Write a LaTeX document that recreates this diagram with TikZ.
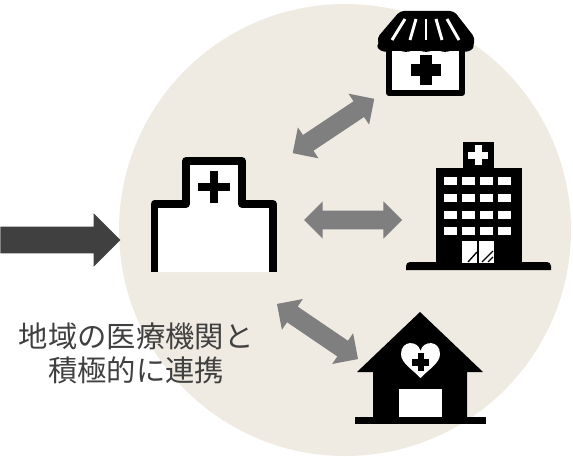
\documentclass[tikz,border=0pt]{standalone}
\usepackage{xcolor}
\usepackage{fontspec}
\usetikzlibrary{shapes.arrows, positioning}
\newfontfamily\cjk{Noto Sans CJK JP}
\definecolor{bgbeige}{HTML}{EFEBE2}
\definecolor{arrgray}{HTML}{7F7F7F}
\definecolor{arrdark}{HTML}{404040}
\tikzset{
  %block arrows
  linkarrow/.style={
    double arrow
    , fill=arrgray
    , inner xsep=0pt
    , inner ysep=6.9pt
    , minimum height=73.5pt
    , minimum width=27.5pt
    , double arrow head extend=6.85pt
    , anchor=center
  },
  inarrow/.style={
    single arrow
    , fill=arrdark
    , inner xsep=0pt
    , inner ysep=9.75pt
    , minimum height=90pt
    , minimum width=39.75pt
    , single arrow head extend=10.1pt
    , anchor=tail
  },
  %icon parts
  ink/.style={fill=black, draw=none},
  paper/.style={fill=white, draw=none},
  caption/.style={
    align=center
    , text=arrdark
    , font=\cjk\fontsize{22}{25}\selectfont
  },
}
\begin{document}
\begin{tikzpicture}[x=0.75pt, y=-0.75pt]
  \useasboundingbox (0,0) rectangle (573,456);
  \fill [bgbeige] (345,230) circle [radius=169.5pt];

  %arrows
  \node [inarrow] (in-arrow) at (0,240) {};
  \node [linkarrow, rotate=33.7] (to-store) at (333.5,126) {};
  \node [linkarrow] (to-tower) at (353,220) {};
  \node [linkarrow, rotate=-34.2] (to-home) at (317.5,331.5) {};

  %clinic
  \filldraw [fill=white, line width=5.6pt, line join=round]
    (154.5,272) -- (154.5,204) -- (186,204) -- (186,161)
    -- (242,161) -- (242,204) -- (273,204) -- (273,272);
  \fill [ink] (198,183) rectangle (230,191);
  \fill [ink] (210,171) rectangle (218,203);

  %store
  \filldraw [fill=white, line width=4.6pt, line join=round]
    (389,48) rectangle (462,93);
  \fill [ink, rounded corners=3pt] (400,11) -- (454,11) -- (475,38)
    -- (473,48) -- (380,48) -- (377,38) -- cycle;
  \foreach \sx in {387,406,426,445,464}
    \fill [ink] (\sx,46) ellipse [x radius=7.2pt, y radius=4.4pt];
  \foreach \sa/\sb in {405/392, 416/410, 426/426, 436/442, 447/459}
    \draw [white, line width=2.2pt] (\sa,19) -- (\sb,40);
  \fill [ink] (411,64) rectangle (441,76);
  \fill [ink] (420,55) rectangle (432,85);

  %tower
  \fill [ink] (463,142) rectangle (494,170);
  \fill [ink] (436,168) rectangle (522,264);
  \fill [ink, rounded corners=3pt] (406,270) -- (406,262) -- (551,262) -- (551,270);
  \fill [ink] (406,266) rectangle (551,268);
  \fill [paper] (468,151.5) rectangle (488,158.5);
  \fill [paper] (474.5,145) rectangle (481.5,165);
  \foreach \wx in {444,462,480,498}
    \foreach \wy in {177,194,211,227}
      \fill [paper] (\wx,\wy) rectangle +(13,7.5);
  \fill [paper] (462,241) rectangle (494,263);
  \draw [black, line width=1.5pt] (478,241) -- (478,263);
  \draw [black, line width=1pt] (468,262) -- (477,252);
  \draw [black, line width=1pt] (482,262) -- (493,251);
  \draw [black, line width=1pt] (488,262) -- (493,257);

  %home
  \fill [ink] (420,312) -- (483,372) -- (467,372) -- (467,418)
    -- (373,418) -- (373,372) -- (357,372) -- cycle;
  \fill [ink] (355,417) rectangle (486,424);
  \fill [paper] (399,389) rectangle (442,417);
  \fill [paper] (420.5,378) .. controls (412,369) and (401,363) .. (401,354)
    .. controls (401,340) and (418,340) .. (420.5,351)
    .. controls (423,340) and (440,340) .. (440,354)
    .. controls (440,363) and (429,369) .. (420.5,378) -- cycle;
  \fill [ink] (412,359) rectangle (429,365.5);
  \fill [ink] (417.5,353) rectangle (424,371);

  %caption
  \node [caption] (note) at (136,353.5) {地域の医療機関と\\積極的に連携};
\end{tikzpicture}
\end{document}
